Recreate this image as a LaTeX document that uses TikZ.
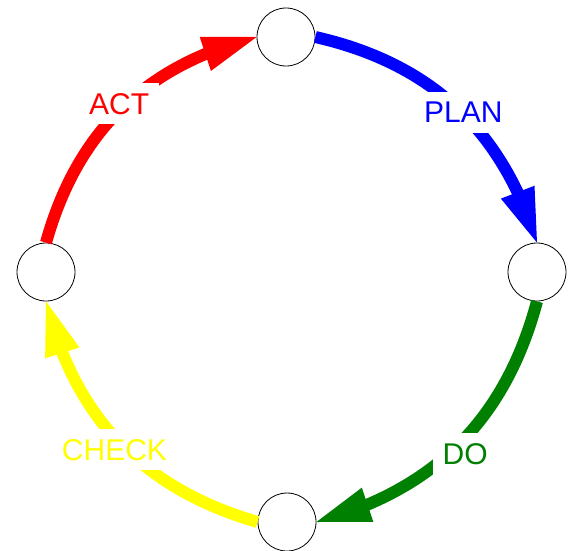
\documentclass[tikz,border=0pt]{standalone}
\usepackage{fontspec}
\setmainfont{Liberation Sans}
\usetikzlibrary{arrows.meta,bending}
\definecolor{dgreen}{RGB}{0,128,0}
\definecolor{pblue}{RGB}{0,0,255}
\definecolor{pred}{RGB}{255,0,0}
\definecolor{pyellow}{RGB}{255,255,0}
\begin{document}
\begin{tikzpicture}[x=1pt,y=-1pt,
  stage/.style={circle,draw=black,line width=0.8pt,fill=white,minimum size=58pt,inner sep=0pt},
  flow/.style={line width=12pt,-{Triangle[length=54pt,width=36pt,line width=0pt,flex]}},
  lbl/.style={fill=white,inner sep=10pt,font=\fontsize{30}{36}\selectfont}]
\useasboundingbox (0,0) rectangle (570,550);
\node[stage] (top) at (286,37) {};
\node[stage] (right) at (537,272) {};
\node[stage] (bottom) at (287,522) {};
\node[stage] (left) at (46,272) {};
\draw[flow,pblue] (top.east) to[bend left=30] node[lbl,text=pblue,xshift=7pt,yshift=-5pt]{PLAN} (right.north);
\draw[flow,dgreen] (right.south) to[bend left=30] node[lbl,text=dgreen,xshift=6pt,yshift=-10pt]{DO} (bottom.east);
\draw[flow,pyellow] (bottom.west) to[bend left=30] node[lbl,text=pyellow,xshift=-5pt,yshift=-7pt]{CHECK} (left.south);
\draw[flow,pred] (left.north) to[bend left=30] node[lbl,text=pred,xshift=-2pt,yshift=5pt]{ACT} (top.west);
\end{tikzpicture}
\end{document}
